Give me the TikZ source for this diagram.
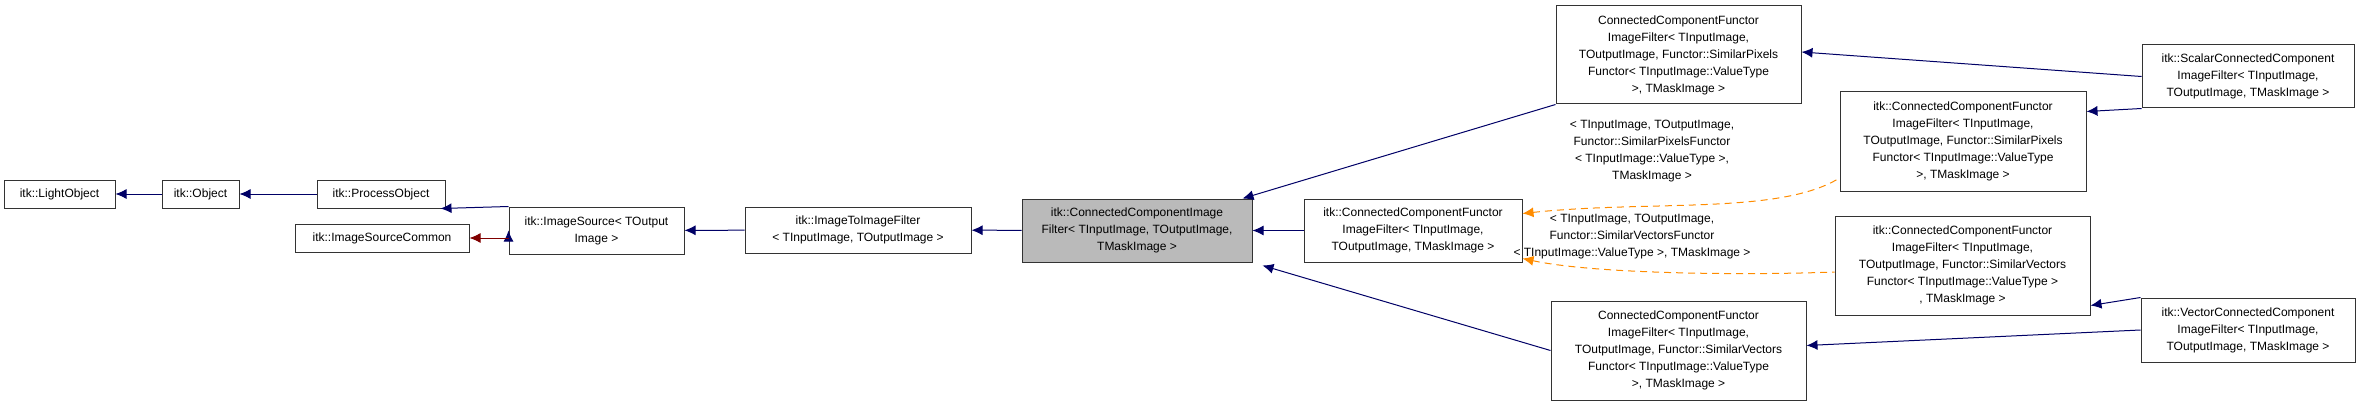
\documentclass[tikz,border=0pt]{standalone}
\usepackage{fontspec}
\setmainfont{Liberation Sans}
\usetikzlibrary{arrows.meta}
\tikzset{
  cls/.style={draw=black!80, line width=1pt, fill=white, inner sep=0pt, align=center,
    font=\fontsize{12}{17}\selectfont},
  inh/.style={draw=blue!40!black, line width=1pt, {Latex[length=11pt,width=10pt]}-},
  tpl/.style={draw=orange!90!yellow, line width=1pt, dashed, dash pattern=on 7pt off 5pt, {Latex[length=11pt,width=10pt]}-},
  lbl/.style={align=center, inner sep=0pt, font=\fontsize{12}{17}\selectfont}
}
\newcommand{\clsbox}[6]{% name, x1, y1, x2, y2, text
  \node[cls, minimum width=#4-#2, minimum height=#5-#3] (#1) at ({(#2+#4)/2},{(#3+#5)/2}) {#6};}
\begin{document}
\begin{tikzpicture}[x=1pt,y=-1pt]
  \useasboundingbox (0,0) rectangle (2360,401);
  % the classes
  \clsbox{light}{4}{180}{115}{208}{itk::LightObject}
  \clsbox{object}{162}{180}{239}{208}{itk::Object}
  \clsbox{process}{317}{180}{445}{208}{itk::ProcessObject}
  \clsbox{common}{295}{224}{469}{252}{itk::ImageSourceCommon}
  \clsbox{source}{509}{207}{684}{254}{itk::ImageSource< TOutput\\Image >}
  \clsbox{imgfilter}{745}{207}{971}{253}{itk::ImageToImageFilter\\< TInputImage, TOutputImage >}
  \node[cls, fill=black!27, minimum width=230, minimum height=63] (main) at (1137,230.5)
    {itk::ConnectedComponentImage\\Filter< TInputImage, TOutputImage,\\TMaskImage >};
  \clsbox{functor}{1304}{199}{1522}{262}{itk::ConnectedComponentFunctor\\ImageFilter< TInputImage,\\TOutputImage, TMaskImage >}
  \clsbox{pixtop}{1556}{6}{1801}{104}{ConnectedComponentFunctor\\ImageFilter< TInputImage,\\TOutputImage, Functor::SimilarPixels\\Functor< TInputImage::ValueType\\>, TMaskImage >}
  \clsbox{vecbot}{1551}{301}{1806}{400}{ConnectedComponentFunctor\\ImageFilter< TInputImage,\\TOutputImage, Functor::SimilarVectors\\Functor< TInputImage::ValueType\\>, TMaskImage >}
  \clsbox{pixitk}{1840}{92}{2086}{191}{itk::ConnectedComponentFunctor\\ImageFilter< TInputImage,\\TOutputImage, Functor::SimilarPixels\\Functor< TInputImage::ValueType\\>, TMaskImage >}
  \clsbox{vecitk}{1835}{216}{2090}{315}{itk::ConnectedComponentFunctor\\ImageFilter< TInputImage,\\TOutputImage, Functor::SimilarVectors\\Functor< TInputImage::ValueType >\\, TMaskImage >}
  \clsbox{scalar}{2142}{45}{2354}{108}{itk::ScalarConnectedComponent\\ImageFilter< TInputImage,\\TOutputImage, TMaskImage >}
  \clsbox{vector}{2141}{298}{2355}{362}{itk::VectorConnectedComponent\\ImageFilter< TInputImage,\\TOutputImage, TMaskImage >}
  % template labels
  \node[lbl] (pixlbl) at (1652,151) {< TInputImage, TOutputImage,\\Functor::SimilarPixelsFunctor\\< TInputImage::ValueType >,\\TMaskImage >};
  \node[lbl] (veclbl) at (1632,237) {< TInputImage, TOutputImage,\\Functor::SimilarVectorsFunctor\\< TInputImage::ValueType >, TMaskImage >};
  % the inheritance arrows
  \draw[inh] (light) -- (object);
  \draw[inh] (object) -- (process);
  \draw[inh] (source.west) ++(0,0) coordinate (s0);
  \draw[inh] (process.south east) ++(-5,0) coordinate (p0) (p0) -- (source.north west);
  \draw[inh, draw=red!50!black] (common) -- (common -| source.west);
  \draw[inh] (source) -- (imgfilter);
  \draw[inh] (imgfilter) -- (main);
  \draw[inh] (main) -- (functor);
  \draw[inh] (main.north east) ++(-10,0) coordinate (m1) (m1) -- (pixtop.south west);
  \draw[inh] (main.south east) ++(10,3) coordinate (m2) (m2) -- (vecbot.west);
  \draw[inh] (pixtop.east) ++(0,-3) coordinate (t1) (t1) -- (scalar.west);
  \draw[inh] (pixitk.north east) ++(0,20) coordinate (t2) (t2) -- (scalar.south west);
  \draw[inh] (vecitk.south east) ++(0,-10) coordinate (t3) (t3) -- (vector.north west);
  \draw[inh] (vecbot.east) ++(0,-5) coordinate (t4) (t4) -- (vector.west);
  % the template instantiations
  \draw[tpl] (functor.east) ++(0,-17) coordinate (f1) (f1) .. controls (1650,200) and (1780,215) .. (pixitk.west |- 0,178);
  \draw[tpl] (functor.east) ++(0,28) coordinate (f2) (f2) .. controls (1600,275) and (1760,275) .. (vecitk.west |- 0,272);
\end{tikzpicture}
\end{document}
